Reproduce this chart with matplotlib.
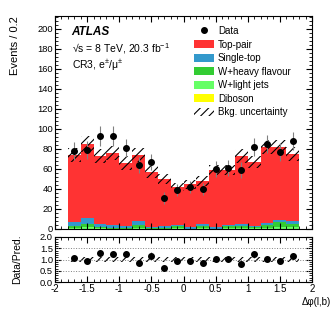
import numpy as np
import matplotlib
matplotlib.use('Agg')
import matplotlib.pyplot as plt
from matplotlib.patches import Patch
from matplotlib.lines import Line2D
from matplotlib.ticker import MultipleLocator, FormatStrFormatter

plt.rcParams['font.family'] = ['Liberation Sans', 'DejaVu Sans']
plt.rcParams['mathtext.fontset'] = 'custom'
plt.rcParams['mathtext.rm'] = 'Liberation Sans'
plt.rcParams['mathtext.it'] = 'Liberation Sans:italic'
plt.rcParams['hatch.linewidth'] = 0.8

# binning in delta phi(l,b)
bin_edges = [-1.8, -1.6, -1.4, -1.2, -1.0, -0.8, -0.6, -0.4, -0.2, 0.0,
             0.2, 0.4, 0.6, 0.8, 1.0, 1.2, 1.4, 1.6, 1.8]

# stacked predictions (events / 0.2)
top_pair = [67, 74.3, 68.3, 72, 63.3, 66.3, 55, 47.3, 37.7, 43, 43, 57.3,
            55, 68, 64.3, 76.3, 73, 66.7]
single_top = [4, 5.7, 3, 3, 2, 3.4, 1, 2, 1, 1.5, 1.7, 1.2, 1.3, 1.7, 1,
              2, 1.7, 3.3]
w_heavy = [2.0, 3.3, 1.1, 0.7, 0.5, 2.9, 0.7, 0.5, 2.2, 0.3, 2.2, 0.3, 1.8,
           2.2, 1.1, 2.5, 5.0, 3.4]
w_light = [0.8, 1.4, 0.5, 0.25, 0.2, 1.2, 0.25, 0.2, 0.9, 0.15, 0.9, 0.15,
           0.7, 0.9, 0.5, 1.0, 2.0, 1.4]
diboson = [0.2, 0.3, 0.1, 0.05, 0.0, 0.2, 0.05, 0.0, 0.2, 0.05, 0.2, 0.05,
           0.2, 0.2, 0.1, 0.2, 0.3, 0.2]
rel_unc = [0.09, 0.09, 0.10, 0.09, 0.10, 0.09, 0.10, 0.10, 0.10, 0.10, 0.10,
           0.09, 0.09, 0.09, 0.09, 0.09, 0.09, 0.09]

data = [78, 79, 93, 93, 81, 64, 67, 31, 39, 42, 40, 60, 61, 59, 82, 85, 77, 88]

edges = np.array(bin_edges)
centers = 0.5 * (edges[:-1] + edges[1:])
width = edges[1:] - edges[:-1]

stack = [(diboson, '#ffff00', 'Diboson'),
         (w_light, '#66ff66', 'W+light jets'),
         (w_heavy, '#33cc33', 'W+heavy flavour'),
         (single_top, '#3399cc', 'Single-top'),
         (top_pair, '#ff3333', 'Top-pair')]

fig = plt.figure(figsize=(3.32, 3.19), dpi=100)
ax = fig.add_axes([55/332, 1-229/319, 257/332, 213/319])
rax = fig.add_axes([55/332, 1-282/319, 257/332, 45/319])

bottom = np.zeros(len(centers))
for vals, col, lab in stack:
    v = np.array(vals)
    ax.bar(edges[:-1], v, width=width, bottom=bottom, align='edge',
           color=col, linewidth=0)
    bottom = bottom + v
total = bottom

unc = total * np.array(rel_unc)
ax.stairs(total + unc, edges, baseline=total - unc, fill=True,
          facecolor='none', edgecolor='black', hatch='////', linewidth=0)

d = np.array(data, dtype=float)
ax.errorbar(centers, d, yerr=np.sqrt(d), fmt='o', color='black', ms=4,
            ecolor='0.5', elinewidth=0.8, capsize=0)

# ratio panel
ratio = d / total
rax.stairs(1 + np.array(rel_unc), edges, baseline=1 - np.array(rel_unc),
           fill=True, facecolor='none', edgecolor='black', hatch='////',
           linewidth=0)
for yl in [0.5, 1.0, 1.5]:
    rax.axhline(yl, color='0.5', ls=':', lw=0.7)
rax.errorbar(centers, ratio, yerr=np.sqrt(d)/total, fmt='o', color='black',
             ms=4, ecolor='0.5', elinewidth=0.8, capsize=0)

for a in (ax, rax):
    a.set_xlim(-2, 2)
    a.xaxis.set_major_locator(MultipleLocator(0.5))
    a.xaxis.set_minor_locator(MultipleLocator(0.1))
    a.tick_params(which='both', direction='in', top=True, right=True,
                  labelsize=7, pad=1.5)
    a.tick_params(axis='y', labelsize=6.7)
    a.tick_params(which='major', length=4)
    a.tick_params(which='minor', length=2)

ax.set_ylim(0, 213)
ax.yaxis.set_major_locator(MultipleLocator(20))
ax.yaxis.set_minor_locator(MultipleLocator(4))
ax.tick_params(labelbottom=False)
ax.set_ylabel('Events / 0.2', loc='top', fontsize=8, labelpad=12)

rax.set_ylim(0, 2)
rax.yaxis.set_major_locator(MultipleLocator(0.5))
rax.yaxis.set_minor_locator(MultipleLocator(0.1))
rax.yaxis.set_major_formatter(FormatStrFormatter('%.1f'))
rax.set_ylabel('Data/Pred.', fontsize=7.5, labelpad=13)
xt = [-2, -1.5, -1, -0.5, 0, 0.5, 1, 1.5, 2]
rax.set_xticks(xt)
rax.set_xticklabels([('%g' % t) for t in xt])
fig.text(331/332, 1-302/319, 'Δφ(l,b)', ha='right', va='center', fontsize=7)

ax.text(0.065, 0.925, 'ATLAS', transform=ax.transAxes, fontsize=8.5,
        fontweight='bold', fontstyle='italic', va='center')
ax.text(0.065, 0.848, '√s = 8 TeV, 20.3 fb$^{-1}$', transform=ax.transAxes,
        fontsize=7.5, va='center')
ax.text(0.065, 0.768, 'CR3, e$^{\\pm}$/μ$^{\\pm}$', transform=ax.transAxes,
        fontsize=7.5, va='center')

handles = [Line2D([], [], marker='o', color='black', ls='none', ms=4)]
labels = ['Data']
for vals, col, lab in stack[::-1]:
    handles.append(Patch(facecolor=col, edgecolor='none'))
    labels.append(lab)
handles.append(Patch(facecolor='none', edgecolor='black', hatch='////', lw=0))
labels.append('Bkg. uncertainty')
ax.legend(handles, labels, loc='upper left', bbox_to_anchor=(0.515, 0.985),
          frameon=False, fontsize=7, handlelength=2.0, handleheight=0.9,
          labelspacing=0.36, handletextpad=0.45, borderpad=0.2)

fig.savefig('out.png', dpi=100)
